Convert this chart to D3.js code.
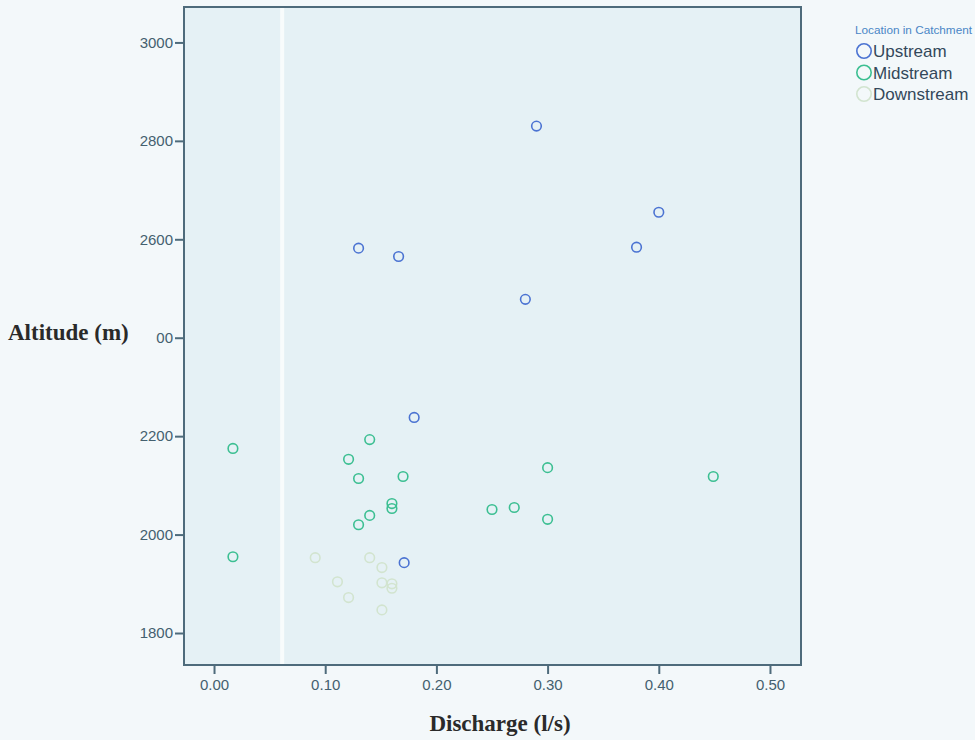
<!DOCTYPE html>
<html>
<head>
<meta charset="utf-8">
<script src="https://cdn.jsdelivr.net/npm/d3@7"></script>
<style>
  body { margin: 0; background: #f3f8fa; }
  .tick text { font-family: "Liberation Sans", Arial, sans-serif; font-size: 15px; fill: #44606f; }
  .axis-title { font-family: "Liberation Serif", "Times New Roman", serif; font-weight: bold; font-size: 23px; fill: #2a2a2a; }
</style>
</head>
<body>
<div id="container"></div>
<script>
// ---------------- data ----------------
var groups = ["Upstream", "Midstream", "Downstream"];

var upstreamQ   = [0.29, 0.40, 0.38, 0.13, 0.166, 0.28, 0.18, 0.171];
var upstreamAlt = [2830, 2655, 2584, 2582, 2565, 2478, 2238, 1943];

var midstreamQ   = [0.017, 0.017, 0.14, 0.121, 0.13, 0.17, 0.16, 0.16, 0.14, 0.13, 0.30, 0.449, 0.25, 0.27, 0.30];
var midstreamAlt = [2175, 1955, 2193, 2153, 2114, 2118, 2063, 2053, 2039, 2020, 2136, 2118, 2051, 2055, 2031];

var downstreamQ   = [0.091, 0.14, 0.151, 0.111, 0.151, 0.16, 0.16, 0.121, 0.151];
var downstreamAlt = [1953, 1953, 1933, 1904, 1902, 1900, 1891, 1872, 1847];

var xTicks = [0, 0.1, 0.2, 0.3, 0.4, 0.5];
var yTicks = [1800, 2000, 2200, 2400, 2600, 2800, 3000];
var yTickLabels = ["1800", "2000", "2200", "00", "2600", "2800", "3000"];

var colors = { Upstream: "#4b73d2", Midstream: "#3cbf92", Downstream: "#d2e4cf" };

var series = [
  { id: "Downstream", q: downstreamQ, alt: downstreamAlt },
  { id: "Midstream",  q: midstreamQ,  alt: midstreamAlt },
  { id: "Upstream",   q: upstreamQ,   alt: upstreamAlt }
];

// ---------------- layout ----------------
const width = 975, height = 740;
const plot = { left: 184, right: 801, top: 7, bottom: 665 };

const svg = d3.select("#container").append("svg")
    .attr("width", width)
    .attr("height", height);

const xScale = d3.scaleLinear().domain([-0.027, 0.5279]).range([plot.left, plot.right]);
const yScale = d3.scaleLinear().domain([1735, 3072]).range([plot.bottom, plot.top]);

// plot background
svg.append("rect")
    .attr("x", plot.left).attr("y", plot.top)
    .attr("width", plot.right - plot.left)
    .attr("height", plot.bottom - plot.top)
    .attr("fill", "#e5f1f5");

// white scan stripe
svg.append("rect")
    .attr("x", xScale(0.0595)).attr("y", plot.top)
    .attr("width", 4)
    .attr("height", plot.bottom - plot.top)
    .attr("fill", "#f8fcfc");

// frame
svg.append("rect")
    .attr("x", plot.left).attr("y", plot.top)
    .attr("width", plot.right - plot.left)
    .attr("height", plot.bottom - plot.top)
    .attr("fill", "none")
    .attr("stroke", "#4e6b7b")
    .attr("stroke-width", 2);

// axes
const xaxis = d3.axisBottom(xScale)
    .tickValues(xTicks)
    .tickFormat(d3.format(".2f"))
    .tickSize(9).tickSizeOuter(0).tickPadding(5);

const yaxis = d3.axisLeft(yScale)
    .tickValues(yTicks)
    .tickFormat(function(d, i) { return yTickLabels[i]; })
    .tickSize(9).tickSizeOuter(0).tickPadding(2);

const gx = svg.append("g")
    .attr("transform", "translate(0," + plot.bottom + ")")
    .call(xaxis);
const gy = svg.append("g")
    .attr("transform", "translate(" + plot.left + ",0)")
    .call(yaxis);

[gx, gy].forEach(function(g) {
  g.select(".domain").remove();
  g.selectAll(".tick line").attr("stroke", "#4e6b7b").attr("stroke-width", 2);
});

svg.append("text")
    .attr("class", "axis-title")
    .attr("x", 500).attr("y", 731)
    .attr("text-anchor", "middle")
    .text("Discharge (l/s)");

svg.append("text")
    .attr("class", "axis-title")
    .attr("x", 8).attr("y", 340)
    .text("Altitude (m)");

// points
series.forEach(function(s) {
  svg.append("g").selectAll("circle")
    .data(s.q.map(function(q, i) { return { q: q, alt: s.alt[i] }; }))
    .enter()
    .append("circle")
    .attr("cx", function(d) { return xScale(d.q); })
    .attr("cy", function(d) { return yScale(d.alt); })
    .attr("r", 4.8)
    .attr("fill", "none")
    .attr("stroke", colors[s.id])
    .attr("stroke-width", 1.6);
});

// legend
const legend = svg.append("g").attr("transform", "translate(855,0)");
legend.append("text")
    .attr("x", 0).attr("y", 34)
    .attr("textLength", 117)
    .attr("lengthAdjust", "spacingAndGlyphs")
    .style("font-family", "'Liberation Sans', Arial, sans-serif")
    .style("font-size", "11px")
    .attr("fill", "#4a86c6")
    .text("Location in Catchment");

legend.selectAll("g.item")
    .data(groups)
    .enter()
    .append("g")
    .attr("class", "item")
    .attr("transform", function(d, i) { return "translate(0," + (51 + i * 21.5) + ")"; })
    .each(function(d) {
      const g = d3.select(this);
      g.append("circle")
        .attr("cx", 9).attr("cy", 0).attr("r", 7.2)
        .attr("fill", "none")
        .attr("stroke", colors[d])
        .attr("stroke-width", 1.6);
      g.append("text")
        .attr("x", 18).attr("y", 6)
        .style("font-family", "'Liberation Sans', Arial, sans-serif")
        .style("font-size", "17px")
        .attr("fill", "#33485a")
        .text(d);
    });
</script>
</body>
</html>
